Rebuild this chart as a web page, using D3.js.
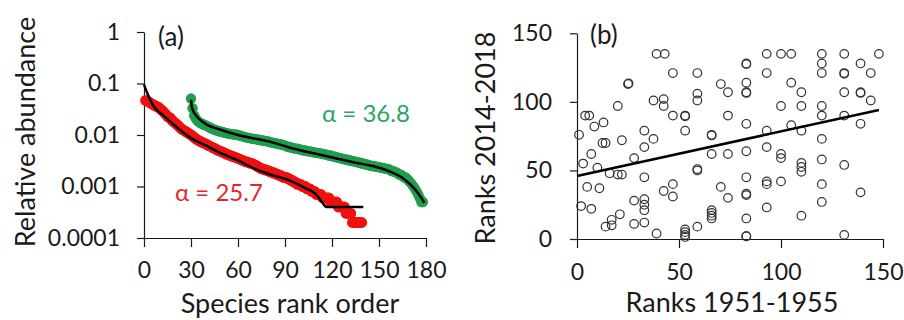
<!DOCTYPE html>
<html>
<head>
<meta charset="utf-8">
<script src="https://cdn.jsdelivr.net/npm/d3@7"></script>
<style>
    body { margin: 0; background: #fff; }
    svg text { font-family: Lato, "Open Sans", sans-serif; fill: #1a1a1a; }
    .axis path, .axis line { stroke: #1a1a1a; stroke-width: 1.2; }
</style>
</head>
<body>
<div id="chart"></div>
<script>

// ---- panel (a): rank abundance ----
let rankTicks = [0, 30, 60, 90, 120, 150, 180];
let abundanceTicks = [1, 0.1, 0.01, 0.001, 0.0001];

// red series, ranks 1..139
let redStartRank = 1;
let redValues = [
    0.047, 0.046, 0.044, 0.042, 0.040, 0.039, 0.037, 0.036, 0.035, 0.033,
    0.031, 0.029, 0.027, 0.025, 0.023, 0.022, 0.021, 0.019, 0.018, 0.017,
    0.016, 0.015, 0.014, 0.013, 0.0125, 0.012, 0.0115, 0.011, 0.0105, 0.01,
    0.0095, 0.009, 0.0085, 0.0081, 0.0078, 0.0075, 0.0072, 0.007, 0.0068, 0.0066,
    0.0063, 0.0061, 0.0059, 0.0057, 0.0055, 0.0053, 0.0051, 0.0049, 0.0048, 0.0047,
    0.0045, 0.0044, 0.0042, 0.0041, 0.004, 0.0039, 0.0038, 0.0037, 0.0036, 0.0035,
    0.0034, 0.0033, 0.0032, 0.0031, 0.003, 0.003, 0.0029, 0.0028, 0.0028, 0.0027,
    0.0026, 0.0025, 0.0024, 0.0023, 0.0022, 0.0022, 0.0021, 0.0021, 0.002, 0.002,
    0.0019, 0.0019, 0.0018, 0.0018, 0.0017, 0.0017, 0.0016, 0.0016, 0.0015, 0.0015,
    0.0015, 0.0014, 0.0014, 0.0013, 0.0013, 0.0012, 0.0012, 0.0011, 0.0011, 0.0011,
    0.001, 0.001, 0.001, 0.0009, 0.0009, 0.0009, 0.0008, 0.0008, 0.0008, 0.0007,
    0.0007, 0.0007, 0.0007, 0.0006, 0.0006, 0.0006, 0.0006, 0.0006, 0.0005, 0.0005,
    0.0005, 0.0005, 0.0005, 0.0004, 0.0004, 0.0004, 0.0004, 0.0004, 0.0003, 0.0003,
    0.0003, 0.0003, 0.0002, 0.0002, 0.0002, 0.0002, 0.0002, 0.0002, 0.0002
];

// green series, ranks 30..178 (shifted by 30)
let greenStartRank = 30;
let greenValues = [
    0.051, 0.033, 0.024, 0.021, 0.019, 0.018, 0.017, 0.0165, 0.016, 0.0155,
    0.015, 0.0145, 0.014, 0.0135, 0.013, 0.0127, 0.0124, 0.0121, 0.0118, 0.0116,
    0.0114, 0.0112, 0.011, 0.0108, 0.0106, 0.0105, 0.0104, 0.0103, 0.0102, 0.0101,
    0.01, 0.0098, 0.0096, 0.0094, 0.0092, 0.009, 0.0089, 0.0088, 0.0086, 0.0085,
    0.0084, 0.0083, 0.0082, 0.0081, 0.008, 0.0079, 0.0078, 0.0077, 0.0076, 0.0075,
    0.0074, 0.0072, 0.0071, 0.007, 0.0069, 0.0068, 0.0067, 0.0066, 0.0065, 0.0064,
    0.0062, 0.006, 0.0059, 0.0058, 0.0057, 0.0056, 0.0055, 0.0054, 0.0054, 0.0053,
    0.0052, 0.0051, 0.005, 0.005, 0.0049, 0.0048, 0.0048, 0.0047, 0.0046, 0.0046,
    0.0045, 0.0045, 0.0044, 0.0044, 0.0043, 0.0042, 0.0042, 0.0041, 0.004, 0.004,
    0.0039, 0.0038, 0.0038, 0.0037, 0.0036, 0.0036, 0.0035, 0.0034, 0.0034, 0.0033,
    0.0033, 0.0032, 0.0032, 0.0031, 0.0031, 0.003, 0.003, 0.0029, 0.0029, 0.0028,
    0.0028, 0.0027, 0.0027, 0.0026, 0.0026, 0.0025, 0.0025, 0.0025, 0.0024, 0.0024,
    0.0024, 0.0023, 0.0023, 0.0023, 0.0022, 0.0022, 0.0022, 0.0021, 0.002, 0.002,
    0.0019, 0.0019, 0.0018, 0.0017, 0.0017, 0.0016, 0.0015, 0.0015, 0.0014, 0.0013,
    0.0012, 0.0011, 0.001, 0.0009, 0.0008, 0.0007, 0.0006, 0.0005, 0.0005
];

// fitted curves (rank, abundance)
let redFitRanks = [0, 2.6, 5.7, 13, 21.7, 30, 38.7, 49.4, 60, 70.8, 81, 92, 103, 109, 113.4, 116.6, 140];
let redFitValues = [0.095, 0.06, 0.038, 0.023, 0.0135, 0.0087, 0.0064, 0.0044, 0.0032, 0.0022, 0.0017, 0.00134, 0.00093, 0.00074, 0.00051, 0.0004, 0.0004];
let greenFitRanks = [30, 30.5, 33, 38.7, 49.4, 60, 70.8, 82, 92, 103, 113, 135, 146, 156, 166.6, 173, 177, 179];
let greenFitValues = [0.048, 0.035, 0.0245, 0.017, 0.0125, 0.01, 0.0085, 0.0072, 0.0058, 0.0048, 0.0041, 0.0029, 0.0025, 0.002, 0.00135, 0.00088, 0.0006, 0.00048];

// ---- panel (b): rank vs rank ----
let b_ticks = [0, 50, 100, 150];
let ranksOld = [
    1, 2, 3, 4, 6, 5, 7, 7, 8.5, 10, 11, 12.5, 14, 13, 14, 16, 17, 17, 20, 20,
    21, 22, 22, 25, 25.3, 28, 28, 28, 33, 33, 33, 33, 33, 33, 33, 37.5, 37.5, 39, 39, 43,
    42.5, 42.5, 42.5, 47, 47, 47, 47, 53, 53, 53, 53, 53, 53, 53, 59, 59, 59, 59, 59, 59,
    66, 66, 66, 66, 66, 66, 66, 70.5, 70.5, 74, 74, 74, 74, 83, 83, 83, 83, 83, 83, 83,
    83, 83, 83, 83, 83, 83, 93, 93, 93, 93, 93, 93, 93, 100, 100, 100, 100, 100, 105, 105,
    105, 110, 110, 110, 110, 110, 110, 110, 120, 120, 120, 120, 120, 120, 120, 120, 120, 131,
    131, 131, 131, 131, 131, 131, 139, 139, 139, 139, 139, 144, 144, 148
];
let ranksNew = [
    76, 24, 55, 90, 90, 38, 22, 62, 82, 52, 37, 70, 70, 85, 9, 48, 14, 10, 97, 47,
    18, 47, 72, 113, 113.5, 59, 28, 11, 79, 67, 45, 29, 25, 21, 12, 73, 101, 4, 135, 135,
    102, 97, 35, 121, 90, 40, 31, 90, 89.5, 79, 7, 5, 3, 1.5, 121, 106, 101, 51, 50, 9,
    76, 75.5, 62, 21, 19, 17, 15, 113, 38, 107, 90, 62, 30, 128, 127.5, 114, 107, 106.5, 84, 64,
    45, 33, 32, 15, 2, 2, 135, 121, 79, 67, 42, 40, 23, 135, 97, 62, 59, 42, 135, 114,
    83, 107, 97, 79, 55.5, 52.5, 49, 17, 135, 128, 121, 97, 90, 73, 58, 40, 27, 135,
    121, 120.5, 107, 90, 54, 3, 128, 107, 106.5, 84, 34, 121, 101, 135
];
let fitOld = [0, 148];
let fitNew = [46, 94];

class RankAbundanceVis {
    constructor(svg) {
        this.svg = svg;
        this.initVis();
    }

    initVis() {
        let vis = this;

        vis.x = d3.scaleLinear().domain([0, 180]).range([144, 426]);
        vis.y = d3.scaleLog().domain([0.0001, 1]).range([238, 32]);

        vis.svg.append("g")
            .attr("class", "axis")
            .attr("transform", "translate(0,238)")
            .call(d3.axisBottom(vis.x).tickValues(rankTicks).tickSize(9).tickSizeOuter(0).tickPadding(15))
            .selectAll("text").style("font-size", "23px");

        vis.svg.append("g")
            .attr("class", "axis")
            .attr("transform", "translate(144,0)")
            .call(d3.axisLeft(vis.y).tickValues(abundanceTicks).tickFormat(d => String(d))
                .tickSize(7).tickSizeOuter(0).tickPadding(17))
            .selectAll("text").style("font-size", "23px");

        vis.svg.selectAll(".axis .domain").attr("fill", "none");

        let red = redValues.map((v, i) => ({rank: redStartRank + i, value: v}));
        let green = greenValues.map((v, i) => ({rank: greenStartRank + i, value: v}));

        vis.svg.append("g").selectAll("circle").data(red).enter().append("circle")
            .attr("cx", d => vis.x(d.rank))
            .attr("cy", d => vis.y(d.value))
            .attr("r", 5.4)
            .attr("fill", "#f01010");

        vis.svg.append("g").selectAll("circle").data(green).enter().append("circle")
            .attr("cx", d => vis.x(d.rank))
            .attr("cy", d => vis.y(d.value))
            .attr("r", 5.2)
            .attr("fill", "#1f9e4c");

        let line = d3.line()
            .x(d => vis.x(d[0]))
            .y(d => vis.y(d[1]))
            .curve(d3.curveMonotoneX);

        vis.svg.append("path")
            .datum(redFitRanks.map((r, i) => [r, redFitValues[i]]))
            .attr("d", line)
            .attr("fill", "none").attr("stroke", "#000").attr("stroke-width", 2.5);

        vis.svg.append("path")
            .datum(greenFitRanks.map((r, i) => [r, greenFitValues[i]]))
            .attr("d", line)
            .attr("fill", "none").attr("stroke", "#000").attr("stroke-width", 2.5);

        vis.svg.append("text").attr("x", 158).attr("y", 46).style("font-size", "26px").text("(a)");

        vis.svg.append("text").attr("x", 322).attr("y", 122)
            .style("font-size", "24px").style("fill", "#2aa566").text("\u03b1 = 36.8");
        vis.svg.append("text").attr("x", 175).attr("y", 201)
            .style("font-size", "24px").style("fill", "#e4262c").text("\u03b1 = 25.7");

        vis.svg.append("text").attr("x", 290).attr("y", 313)
            .attr("text-anchor", "middle").style("font-size", "27px").text("Species rank order");

        vis.svg.append("text")
            .attr("transform", "translate(35,132) rotate(-90)")
            .attr("text-anchor", "middle").style("font-size", "27px").text("Relative abundance");
    }
}

class RankScatterVis {
    constructor(svg) {
        this.svg = svg;
        this.initVis();
    }

    initVis() {
        let vis = this;

        vis.x = d3.scaleLinear().domain([0, 150]).range([577, 883]);
        vis.y = d3.scaleLinear().domain([0, 150]).range([239, 33.3]);

        vis.svg.append("g")
            .attr("class", "axis")
            .attr("transform", "translate(0,239)")
            .call(d3.axisBottom(vis.x).tickValues(b_ticks).tickSize(9).tickSizeOuter(0).tickPadding(16))
            .selectAll("text").style("font-size", "23px");

        vis.svg.append("g")
            .attr("class", "axis")
            .attr("transform", "translate(577,0)")
            .call(d3.axisLeft(vis.y).tickValues(b_ticks).tickSize(7).tickSizeOuter(0).tickPadding(18))
            .selectAll("text").style("font-size", "23px");

        vis.svg.selectAll(".axis .domain").attr("fill", "none");

        let pts = ranksOld.map((r, i) => ({old: r, now: ranksNew[i]}));

        vis.svg.append("g").selectAll("circle").data(pts).enter().append("circle")
            .attr("cx", d => vis.x(d.old))
            .attr("cy", d => vis.y(d.now))
            .attr("r", 4.3)
            .attr("fill", "none")
            .attr("stroke", "#333")
            .attr("stroke-width", 1.2);

        vis.svg.append("line")
            .attr("x1", vis.x(fitOld[0])).attr("y1", vis.y(fitNew[0]))
            .attr("x2", vis.x(fitOld[1])).attr("y2", vis.y(fitNew[1]))
            .attr("stroke", "#000").attr("stroke-width", 2.5);

        vis.svg.append("text").attr("x", 590).attr("y", 44).style("font-size", "26px").text("(b)");

        vis.svg.append("text").attr("x", 732).attr("y", 312)
            .attr("text-anchor", "middle").style("font-size", "27px").text("Ranks 1951-1955");

        vis.svg.append("text")
            .attr("transform", "translate(495,138) rotate(-90)")
            .attr("text-anchor", "middle").style("font-size", "27px").text("Ranks 2014-2018");
    }
}

let svg = d3.select("#chart").append("svg")
    .attr("width", 904)
    .attr("height", 320);

new RankAbundanceVis(svg.append("g"));
new RankScatterVis(svg.append("g"));

</script>
</body>
</html>
